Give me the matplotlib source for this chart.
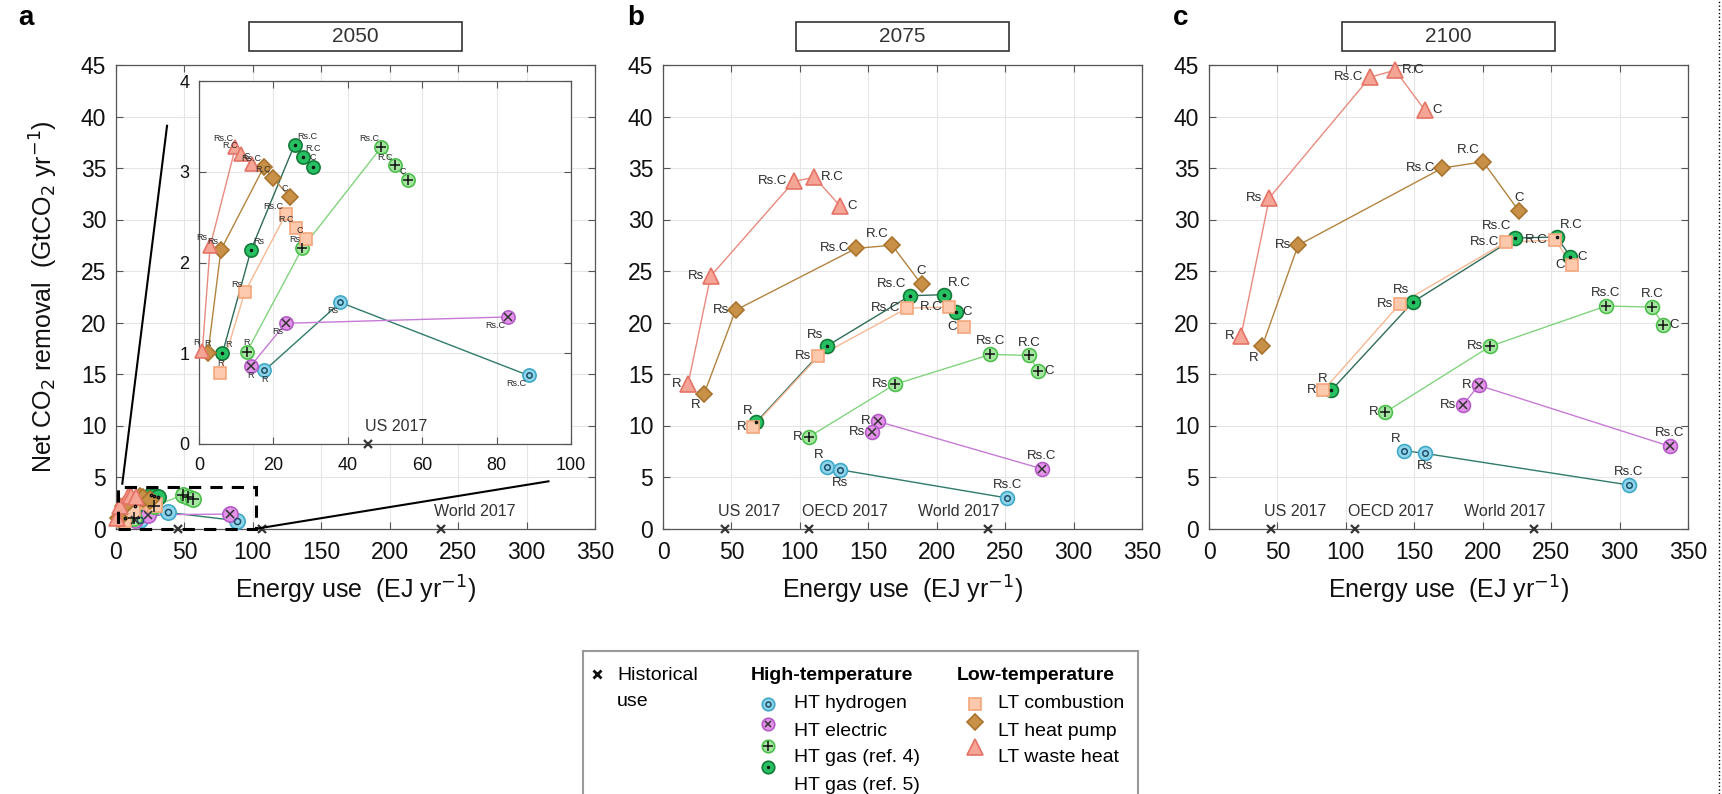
import numpy as np
import matplotlib.pyplot as plt
from matplotlib.patches import Rectangle

plt.rcParams['font.family'] = ['Liberation Sans', 'DejaVu Sans']

years = ['2050', '2075', '2100']
scen5 = ['R', 'Rs', 'Rs.C', 'R.C', 'C']
scen3 = ['R', 'Rs', 'Rs.C']

# energy use (EJ/yr) and net CO2 removal (GtCO2/yr), one row per year
waste_x = [[0.9, 3.0, 9.8, 11.2, 14.3], [18.3, 34.8, 95.7, 110.6, 129.5], [23.4, 44.1, 117.6, 136.0, 157.8]]
waste_y = [[1.03, 2.18, 3.27, 3.20, 3.08], [14.0, 24.5, 33.7, 34.1, 31.3], [18.7, 32.1, 43.8, 44.5, 40.6]]
hp_x = [[2.4, 5.9, 17.4, 19.9, 24.5], [30.1, 53.1, 141.2, 167.4, 188.9], [38.9, 65.1, 170.6, 200.3, 226.6]]
hp_y = [[1.00, 2.14, 3.05, 2.93, 2.72], [13.1, 21.2, 27.2, 27.5, 23.7], [17.7, 27.5, 35.0, 35.6, 30.8]]
comb_x = [[5.7, 12.3, 23.3, 26.0, 28.7], [65.9, 113.5, 178.4, 209.3, 219.7], [83.5, 139.4, 216.9, 252.8, 265.4]]
comb_y = [[0.78, 1.67, 2.53, 2.38, 2.26], [9.9, 16.7, 21.4, 21.5, 19.6], [13.4, 21.8, 27.8, 28.0, 25.6]]
gas5_x = [[6.3, 14.0, 25.7, 28.0, 30.7], [68.0, 119.5, 180.5, 205.3, 214.0], [89.3, 149.1, 223.4, 254.1, 264.1]]
gas5_y = [[1.00, 2.14, 3.30, 3.16, 3.05], [10.3, 17.7, 22.6, 22.7, 21.0], [13.4, 22.0, 28.2, 28.3, 26.4]]
gas4_x = [[12.8, 27.8, 49.0, 52.8, 56.3], [106.7, 169.5, 239.3, 267.6, 273.9], [128.9, 205.6, 290.1, 323.7, 331.6]]
gas4_y = [[1.01, 2.16, 3.27, 3.07, 2.91], [8.9, 14.0, 16.9, 16.8, 15.3], [11.3, 17.7, 21.6, 21.5, 19.8]]
elec_x = [[13.9, 23.3, 83.0], [157.0, 153.0, 276.7], [197.2, 185.4, 336.8]]
elec_y = [[0.86, 1.33, 1.40], [10.4, 9.35, 5.8], [13.9, 12.0, 7.98]]
hyd_x = [[17.6, 38.0, 88.6], [119.8, 129.5, 251.6], [142.6, 157.8, 306.6]]
hyd_y = [[0.81, 1.56, 0.755], [5.98, 5.7, 2.96], [7.56, 7.29, 4.23]]

hist_names = ['US 2017', 'OECD 2017', 'World 2017']
hist_x = [45.5, 106.5, 237.5]

styles = {
    'hyd': dict(m='o', fc='#8fd5ea', ec='#3fa8c8', lc='#2f7b6c', inner='o', ic='#1f4f6a', isz=0.4, s=1.0),
    'elec': dict(m='o', fc='#e393e8', ec='#b45cc8', lc='#c77ad6', inner='x', ic='#333333', isz=0.55, s=1.0),
    'gas4': dict(m='o', fc='#a5e6a0', ec='#4cbf4c', lc='#82d47e', inner='+', ic='#111111', isz=0.75, s=1.0),
    'gas5': dict(m='o', fc='#27c062', ec='#137a38', lc='#2f6b58', inner='.', ic='#111111', isz=0.3, s=1.0),
    'comb': dict(m='s', fc='#fcc9ad', ec='#f4a77c', lc='#f7b894', s=0.9),
    'hp': dict(m='D', fc='#c99047', ec='#a8742e', lc='#b3833f', s=0.85),
    'waste': dict(m='^', fc='#f4a596', ec='#e57366', lc='#e98a7e', s=1.1),
}
series = [
    ('hyd', hyd_x, hyd_y, scen3),
    ('elec', elec_x, elec_y, scen3),
    ('gas4', gas4_x, gas4_y, scen5),
    ('gas5', gas5_x, gas5_y, scen5),
    ('comb', comb_x, comb_y, scen5),
    ('hp', hp_x, hp_y, scen5),
    ('waste', waste_x, waste_y, scen5),
]

dirs_bc = {
    'waste': ['l', 'l', 'l', 'r', 'r'],
    'hp': ['dl', 'l', 'l', 'ul', 'u'],
    'gas5': ['ul', 'ul', 'ul', 'ur', 'r'],
    'comb': ['l', 'l', 'l', 'l', 'l'],
    'gas4': ['l', 'l', 'u', 'u', 'r'],
    'elec': ['l', 'l', 'u'],
    'hyd': ['ul', 'd', 'u'],
}
dirs_in = {
    'waste': ['ul', 'ul', 'ul', 'ul', 'ul'],
    'hp': ['u', 'ul', 'ul', 'ul', 'ul'],
    'gas5': ['ur', 'ur', 'ur', 'ur', 'u'],
    'comb': ['u', 'ul', 'ul', 'ul', 'ul'],
    'gas4': ['u', 'ul', 'ul', 'ul', 'ul'],
    'elec': ['d', 'dl', 'dl'],
    'hyd': ['d', 'dl', 'dl'],
}
offs = {'l': (-1, 0, 'right', 'center'), 'r': (1, 0, 'left', 'center'),
        'u': (0, 1, 'center', 'bottom'), 'd': (0, -1, 'center', 'top'),
        'ul': (-0.5, 0.8, 'right', 'bottom'), 'ur': (0.5, 0.8, 'left', 'bottom'),
        'dl': (-0.5, -0.8, 'right', 'top')}


def style_ax(ax, fs=16.5):
    ax.grid(True, color='#e6e6e6', lw=0.8)
    ax.set_axisbelow(True)
    ax.tick_params(direction='in', top=True, right=True, length=5, color='#555555',
                   labelsize=fs, labelcolor='#111111')
    ax.tick_params(axis='x', pad=9)
    ax.tick_params(axis='y', pad=7)
    for sp in ax.spines.values():
        sp.set_color('#555555')
        sp.set_linewidth(0.9)


def draw(ax, ms, dirs=None, lfs=9, dist=5, yi=0):
    for key, xs, ys, labs in series:
        st = styles[key]
        x = np.array(xs[yi])
        y = np.array(ys[yi])
        o = np.argsort(x)
        ax.plot(x[o], y[o], '-', color=st['lc'], lw=1, zorder=2)
        ax.plot(x, y, ls='none', marker=st['m'], ms=ms * st['s'], mfc=st['fc'], mec=st['ec'],
                mew=1.2, zorder=3, clip_on=False)
        if 'inner' in st:
            ax.plot(x, y, ls='none', marker=st['inner'], ms=ms * st['isz'], color=st['ic'],
                    mfc='none', mew=1.1, zorder=4, clip_on=False)
        if dirs is not None:
            for xi, yv, lab, d in zip(x, y, labs, dirs[key]):
                dx, dy, ha, va = offs[d]
                ax.annotate(lab, (xi, yv), xytext=(dx * dist, dy * dist), textcoords='offset points',
                            ha=ha, va=va, fontsize=lfs, color='#2a2a2a', zorder=5)


def hist(ax, names, fs=11.5, lpad=-5):
    xmax = ax.get_xlim()[1]
    hx_in = [hx for hx in hist_x if hx <= xmax]
    ax.plot(hx_in, [0] * len(hx_in), ls='none', marker='x', ms=6, mew=1.6, color='#333333',
            zorder=6, clip_on=False)
    for nm, hx in zip(hist_names, hist_x):
        if nm not in names:
            continue
        if names[nm] == 'right':
            ax.annotate(nm, (hx, 0), xytext=(8, 7), textcoords='offset points', ha='right',
                        va='bottom', fontsize=fs, color='#333333')
        else:
            ax.annotate(nm, (hx, 0), xytext=(lpad, 7), textcoords='offset points', ha='left',
                        va='bottom', fontsize=fs, color='#333333')


fig = plt.figure(figsize=(17.22, 7.94), dpi=100)
W, H = 1722, 794
lefts = [116, 663, 1209]
top, bot = 65, 528.5
axes = []
for i, l in enumerate(lefts):
    ax = fig.add_axes([l / W, 1 - bot / H, 479 / W, (bot - top) / H])
    style_ax(ax)
    ax.set_xlim(0, 350)
    ax.set_ylim(0, 45)
    ax.set_xticks(np.arange(0, 351, 50))
    ax.set_yticks(np.arange(0, 46, 5))
    ax.set_xlabel('Energy use  (EJ yr$^{-1}$)', fontsize=18, labelpad=7, color='#111111')
    # year box
    ax.add_patch(Rectangle((0.278, 1.03), 0.444, 0.063, transform=ax.transAxes, clip_on=False,
                           facecolor='white', edgecolor='#333333', lw=1.2))
    ax.text(0.5, 1.0615, years[i], transform=ax.transAxes, ha='center', va='center',
            fontsize=15, color='#333333')
    axes.append(ax)

axes[0].set_ylabel('Net CO$_2$ removal  (GtCO$_2$ yr$^{-1}$)', fontsize=18, labelpad=15,
                   color='#111111')
for ax, letter, lx in zip(axes, ['a', 'b', 'c'], [26, 636, 1181]):
    fig.text(lx / W, 1 - 18 / H, letter, fontsize=20, fontweight='bold', ha='center', va='center')

# panel a: main
draw(axes[0], 11, yi=0)
hist(axes[0], {'World 2017': 'left'})
axes[0].add_patch(Rectangle((1.5, 0), 101, 4, fill=False, ls=(0, (4, 3)), lw=2.2,
                            edgecolor='black', zorder=7, clip_on=False))
axes[0].plot([4.6, 37.3], [4.35, 39.1], color='black', lw=1.5, zorder=7)
axes[0].plot([103.4, 316], [0, 4.58], color='black', lw=1.5, zorder=7)

for i in (1, 2):
    draw(axes[i], 10, dirs=dirs_bc, lfs=9.5, dist=5, yi=i)
    hist(axes[i], {'US 2017': 'left', 'OECD 2017': 'left', 'World 2017': 'right'})

# inset for 2050
ins = fig.add_axes([199 / W, 1 - 444 / H, 372 / W, 363 / H])
style_ax(ins, fs=13)
ins.set_facecolor('white')
ins.set_xlim(0, 100)
ins.set_ylim(0, 4)
ins.set_xticks(np.arange(0, 101, 20))
ins.set_yticks(np.arange(0, 5, 1))
draw(ins, 9.5, dirs=dirs_in, lfs=6.5, dist=3.5, yi=0)
hist(ins, {'US 2017': 'left'}, lpad=-2)

# legend
lax = fig.add_axes([583 / W, 0, 555 / W, 143 / H])
lax.set_xlim(0, 555)
lax.set_ylim(143, 0)
lax.set_xticks([])
lax.set_yticks([])
for k, sp in lax.spines.items():
    sp.set_color('#999999')
    sp.set_linewidth(1.5)
lax.spines['bottom'].set_visible(False)
lfs = 14
lax.plot(14, 23, marker='x', ms=6, mew=2, color='#111111')
lax.text(34, 24, 'Historical', fontsize=lfs, va='center')
lax.text(34, 50, 'use', fontsize=lfs, va='center')
lax.text(168, 25, 'High-temperature', fontsize=lfs, fontweight='bold', va='center')
lax.text(374, 25, 'Low-temperature', fontsize=lfs, fontweight='bold', va='center')
ht_keys = ['hyd', 'elec', 'gas4', 'gas5']
ht_names = ['HT hydrogen', 'HT electric', 'HT gas (ref. 4)', 'HT gas (ref. 5)']
for k, nm, my, ty in zip(ht_keys, ht_names, [53, 73, 95, 116], [53, 80, 107, 134]):
    st = styles[k]
    lax.plot(185, my, marker=st['m'], ms=9, mfc=st['fc'], mec=st['ec'], mew=1.2, clip_on=False)
    lax.plot(185, my, marker=st['inner'], ms=9 * st['isz'], color=st['ic'], mfc='none', mew=1.1,
             clip_on=False)
    lax.text(211, ty, nm, fontsize=lfs, va='center')
lt_keys = ['comb', 'hp', 'waste']
lt_names = ['LT combustion', 'LT heat pump', 'LT waste heat']
for k, nm, my, ty in zip(lt_keys, lt_names, [53, 71, 96], [53, 80, 107]):
    st = styles[k]
    lax.plot(392, my, marker=st['m'], ms=10 * st['s'], mfc=st['fc'], mec=st['ec'], mew=1.2,
             clip_on=False)
    lax.text(415, ty, nm, fontsize=lfs, va='center')

fig.add_artist(plt.Line2D([1719 / W, 1719 / W], [0, 1], color='black', lw=1, ls=':'))

fig.savefig('out.png', dpi=100)
